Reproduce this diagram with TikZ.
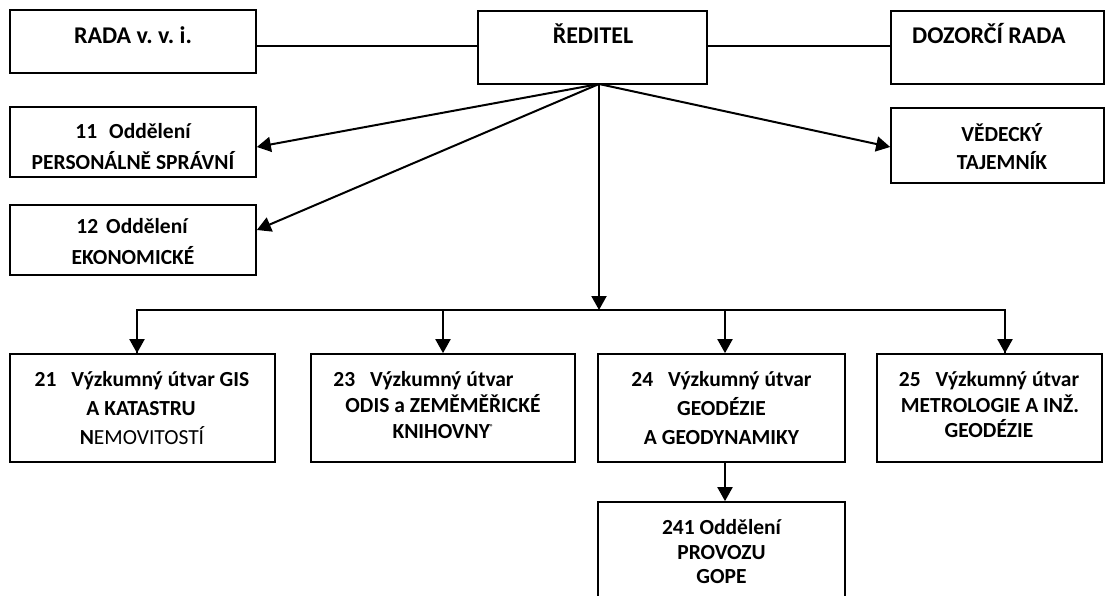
\documentclass[tikz,border=0pt]{standalone}
\usepackage{fontspec}
\setmainfont{Carlito}
\usetikzlibrary{arrows.meta}
\begin{document}
\begin{tikzpicture}[x=1pt,y=-1pt,
  box/.style={draw, line width=1.7pt, inner sep=0pt, fill=white},
  ln/.style={line width=2pt},
  arr/.style={line width=2pt, -{Triangle[length=14pt,width=15pt]}},
  bigt/.style={anchor=base, inner sep=0pt, font=\fontsize{24}{28}\selectfont\bfseries},
  smt/.style={anchor=base, inner sep=0pt, font=\fontsize{21.5}{25}\selectfont\bfseries}]
\useasboundingbox (0,0) rectangle (1105,596);
% boxes
\node[box, minimum width=246pt, minimum height=63pt] (rada) at (133,41.5) {};
\node[box, minimum width=229pt, minimum height=73pt] (dir) at (592.5,47.5) {};
\node[box, minimum width=213pt, minimum height=73pt] (dozor) at (997.5,47.5) {};
\node[box, minimum width=246pt, minimum height=70pt] (o11) at (133,142) {};
\node[box, minimum width=246pt, minimum height=70pt] (o12) at (133,240) {};
\node[box, minimum width=213pt, minimum height=75pt] (ved) at (997.5,145.5) {};
\node[box, minimum width=265pt, minimum height=108pt] (u21) at (142.5,408) {};
\node[box, minimum width=264pt, minimum height=108pt] (u23) at (443,408) {};
\node[box, minimum width=247pt, minimum height=108pt] (u24) at (721.5,408) {};
\node[box, minimum width=225pt, minimum height=108pt] (u25) at (989.5,408) {};
\node[box, minimum width=247pt, minimum height=110pt] (o241) at (721.5,557) {};
% texts
\node[bigt] (trada) at (133,44) {RADA v.\ v.\ i.};
\node[bigt] (tdir) at (593,44) {ŘEDITEL};
\node[bigt, anchor=base west] (tdozor) at (912,44) {DOZORČÍ RADA};
\node[smt] (t11a) at (133,138.3) {11\hspace{12pt}Oddělení};
\begin{scope}
\clip (12,150) rectangle (254,168.3);
\node[smt] (t11b) at (133,169.3) {PERSONÁLNĚ SPRÁVNÍ};
\end{scope}
\node[smt] (t12a) at (132,233.3) {12\hspace{8pt}Oddělení};
\begin{scope}
\clip (12,245) rectangle (254,263.3);
\node[smt] (t12b) at (133,264.3) {EKONOMICKÉ};
\end{scope}
\node[smt] (tveda) at (1002,141.7) {VĚDECKÝ};
\node[smt] (tvedb) at (1002,170) {TAJEMNÍK};
\node[smt] (t21a) at (142,386) {21\hspace{15pt}Výzkumný útvar GIS};
\node[smt] (t21b) at (141,415) {A KATASTRU};
\node[smt] (t21c) at (142,444.5) {N\mdseries EMOVITOSTÍ};
\node[smt] (t23a) at (423.5,386) {23\hspace{15pt}Výzkumný útvar};
\node[smt] (t23b) at (443,412) {ODIS a ZEMĚMĚŘICKÉ};
\node[smt] (t23c) at (443,438.5) {KNIHOVNY\raisebox{9pt}{\fontsize{7}{7}\selectfont ®}};
\node[smt] (t24a) at (721.5,386) {24\hspace{15pt}Výzkumný útvar};
\node[smt] (t24b) at (721.5,415) {GEODÉZIE};
\node[smt] (t24c) at (721.5,444.5) {A GEODYNAMIKY};
\node[smt] (t25a) at (989,386) {25\hspace{15pt}Výzkumný útvar};
\node[smt] (t25b) at (990,412) {METROLOGIE A INŽ.};
\node[smt] (t25c) at (989,437) {GEODÉZIE};
\node[smt] (t241a) at (721.5,534) {241 Oddělení};
\node[smt] (t241b) at (721.5,559) {PROVOZU};
\node[smt] (t241c) at (721.5,583.5) {GOPE};
% connectors
\draw[ln] (rada.east |- 0,46) -- (dir.west |- 0,46);
\draw[ln] (dir.east |- 0,46) -- (dozor.west |- 0,46);
\coordinate (f) at (599,84);
\draw[arr] (f) -- (o11.east |- 0,147);
\draw[arr] (f) -- (o12.east |- 0,230);
\draw[arr] (f) -- (ved.west |- 0,147);
\coordinate (bus) at (599,310);
\coordinate (bl) at (137,310);
\coordinate (br) at (1005,310);
\coordinate (b23) at (443,310);
\coordinate (b24) at (725,310);
\draw[ln, line join=miter] (bus) -- (bl) -- (bl |- u21.north);
\draw[ln, line join=miter] (bus) -- (br) -- (br |- u25.north);
\draw[arr] (f) -- (bus);
\draw[arr] (bl) -- (bl |- u21.north);
\draw[arr] (br) -- (br |- u25.north);
\draw[arr] (b23) -- (b23 |- u23.north);
\draw[arr] (b24) -- (b24 |- u24.north);
\draw[arr] (u24.south -| b24) -- (o241.north -| b24);
\end{tikzpicture}
\end{document}
